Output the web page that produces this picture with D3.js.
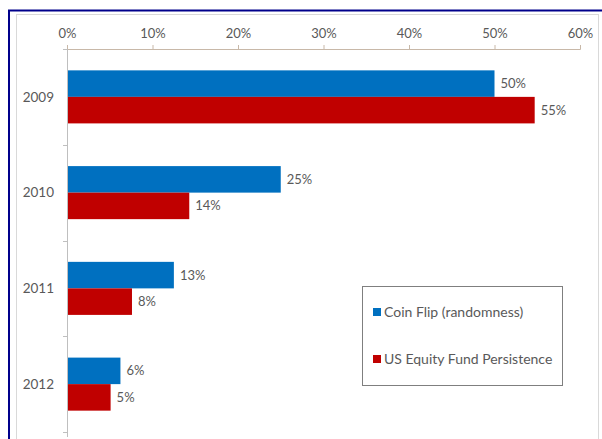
<!DOCTYPE html>
<html>
<head>
<meta charset="utf-8">
<script src="https://cdn.jsdelivr.net/npm/d3@7"></script>
<style>
  body { margin: 0; background: #fff; }
  text { font-family: Lato, "Open Sans", sans-serif; fill: #595959; }
</style>
</head>
<body>
<div class="chart"></div>
<script>
var years = ["2009", "2010", "2011", "2012"];
var seriesNames = ["Coin Flip (randomness)", "US Equity Fund Persistence"];
var coinFlip = [0.50, 0.25, 0.125, 0.0625];
var fundPersistence = [0.547, 0.143, 0.076, 0.051];
var coinLabels = ["50%", "25%", "13%", "6%"];
var fundLabels = ["55%", "14%", "8%", "5%"];
var xTicks = [0, 0.1, 0.2, 0.3, 0.4, 0.5, 0.6];
var colors = ["#0070c0", "#c00000"];

var width = 602, height = 439;
var svg = d3.select(".chart").append("svg")
    .attr("width", width)
    .attr("height", height);

// outer frame + chart area
svg.append("rect")
    .attr("x", 16.5).attr("y", 14.5)
    .attr("width", 582).attr("height", 440)
    .attr("fill", "#fff")
    .attr("stroke", "#d9d9d9");
svg.append("rect")
    .attr("x", 9).attr("y", 10.5)
    .attr("width", 620).attr("height", 450)
    .attr("fill", "none")
    .attr("stroke", "#00008b")
    .attr("stroke-width", 2);

var x = d3.scaleLinear().domain([0, 0.6]).range([67, 580]);
var y = d3.scaleBand().domain(years).range([49, 432]).paddingInner(0.446).paddingOuter(0.223);
var sub = d3.scaleBand().domain([0, 1]).range([0, y.bandwidth()]);

// top axis
var xAxis = svg.append("g")
    .attr("transform", "translate(0,49)")
    .call(d3.axisTop(x).tickValues(xTicks).tickFormat(d3.format(".0%")).tickSize(4).tickPadding(7));
xAxis.select(".domain").attr("stroke", "#c8b8a8");
xAxis.selectAll(".tick line").attr("stroke", "#c8b8a8");
xAxis.selectAll(".tick text").style("font-size", "13px").attr("fill", "#595959");

// left axis
var boundaries = [49].concat(years.map(function(d) { return y(d) - y.step() * y.paddingInner() / 2 + y.step(); }));
svg.append("line")
    .attr("x1", 67.5).attr("x2", 67.5)
    .attr("y1", 49).attr("y2", 437)
    .attr("stroke", "#bfbfbf");
svg.selectAll(".ytick")
    .data(boundaries)
    .enter().append("line")
    .attr("x1", 63).attr("x2", 67)
    .attr("y1", function(d) { return Math.round(d) + 0.5; })
    .attr("y2", function(d) { return Math.round(d) + 0.5; })
    .attr("stroke", "#bfbfbf");
svg.selectAll(".ylabel")
    .data(years)
    .enter().append("text")
    .attr("x", 54)
    .attr("y", function(d) { return y(d) + y.bandwidth() / 2; })
    .attr("dy", "0.35em")
    .attr("text-anchor", "end")
    .style("font-size", "13.5px")
    .text(function(d) { return d; });

var series = [coinFlip, fundPersistence];
var labels = [coinLabels, fundLabels];

series.forEach(function(vals, s) {
  var g = svg.append("g");
  g.selectAll("rect")
    .data(vals)
    .enter().append("rect")
    .attr("x", x(0) + 1)
    .attr("y", function(d, i) { return y(years[i]) + sub(s); })
    .attr("width", function(d) { return x(d) - x(0) - 1; })
    .attr("height", sub.bandwidth())
    .attr("fill", colors[s]);
  g.selectAll("text")
    .data(vals)
    .enter().append("text")
    .attr("x", function(d) { return x(d) + 6; })
    .attr("y", function(d, i) { return y(years[i]) + sub(s) + sub.bandwidth() / 2; })
    .attr("dy", "0.35em")
    .style("font-size", "13px")
    .text(function(d, i) { return labels[s][i]; });
});

// legend
var legend = svg.append("g").attr("transform", "translate(362,286)");
legend.append("rect")
    .attr("x", 0.5).attr("y", 0.5)
    .attr("width", 200).attr("height", 99)
    .attr("fill", "#fff")
    .attr("stroke", "#7f7f7f");
var item = legend.selectAll(".item")
    .data(seriesNames)
    .enter().append("g")
    .attr("transform", function(d, i) { return "translate(11," + (26 + i * 47) + ")"; });
item.append("rect")
    .attr("x", 0).attr("y", -4)
    .attr("width", 8).attr("height", 8)
    .attr("fill", function(d, i) { return colors[i]; });
item.append("text")
    .attr("x", 11)
    .attr("dy", "0.35em")
    .style("font-size", "14px")
    .attr("fill", "#404040")
    .text(function(d) { return d; });
</script>
</body>
</html>
